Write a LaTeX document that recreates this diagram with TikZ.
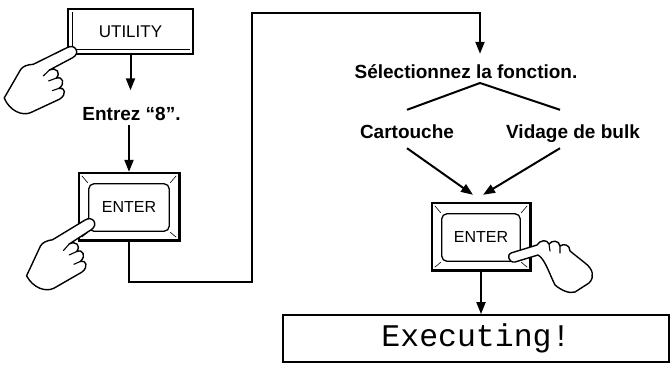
\documentclass[tikz,border=0pt]{standalone}
\usepackage{fontspec}
\setmainfont{Liberation Sans}
\newfontfamily\monofont{Liberation Mono}
\usetikzlibrary{arrows.meta,calc}

% outline of a keycap: heavy frame, rounded face, bevel corners
\newcommand\drawkeycap[1]{%
  \draw[line width=2.2pt] (#1.south west) rectangle (#1.north east);
  \draw[line width=3.4pt,line cap=rect] ([yshift=-1pt]#1.north east) -- (#1.south east) -- ([xshift=1pt]#1.south west);
  \draw[line width=1.3pt,rounded corners=5pt]
    ([xshift=10pt,yshift=9pt]#1.south west) rectangle ([xshift=-10pt,yshift=-11pt]#1.north east);
  \draw[line width=0.6pt] ([xshift=3pt,yshift=-3pt]#1.north west) -- ([xshift=9pt,yshift=-10pt]#1.north west);
  \draw[line width=0.6pt] ([xshift=-3pt,yshift=-3pt]#1.north east) -- ([xshift=-9pt,yshift=-10pt]#1.north east);
  \draw[line width=0.6pt] ([xshift=3pt,yshift=3pt]#1.south west) -- ([xshift=9pt,yshift=8pt]#1.south west);
  \draw[line width=0.6pt] ([xshift=-3pt,yshift=3pt]#1.south east) -- ([xshift=-9pt,yshift=8pt]#1.south east);
}

\begin{document}
\begin{tikzpicture}[x=1pt,y=-1pt,
  conn/.style={line width=2pt},
  arr/.style={conn,-{Triangle[length=12pt,width=9pt]}},
  lbl/.style={font=\fontsize{19}{19}\selectfont\bfseries,inner sep=0pt,anchor=base},
  keycap/.style={inner sep=0pt,minimum width=100pt,minimum height=67pt,
    font=\fontsize{16}{16}\selectfont},
  handline/.style={line width=1.4pt,fill=white,line join=round},
  crease/.style={line width=1.1pt,line cap=round},
  % right hand, palm side, index finger along +x
  hand/.pic={
    \draw[handline]
      (-36,-6) -- (-3,-5)
      .. controls (1,-5) and (3,-2.5) .. (3,0)
      .. controls (3,2.5) and (1,5) .. (-3,5)
      -- (-26,5)
      .. controls (-19,5.5) and (-18,12) .. (-24,14)
      .. controls (-18,15) and (-19,22) .. (-26,23)
      .. controls (-21,24) and (-22,31) .. (-30,31.5)
      -- (-58,30)
      .. controls (-66,29) and (-73,20) .. (-72,8)
      -- (-48,-7)
      .. controls (-45,-9) and (-40,-8) .. cycle;
    \draw[crease]
      (-24,14) -- (-31,13)
      (-26,23) -- (-32,22)
      (-26,5) -- (-33,7);
  },
  % hand seen from the back, index finger pointing left
  handback/.pic={
    \draw[handline]
      (2,5) .. controls (-5,6) and (-6,-3) .. (-2,-4)
      -- (24,-12)
      .. controls (27,-17) and (34,-18) .. (36,-13)
      .. controls (39,-17) and (46,-17) .. (47,-11)
      .. controls (51,-14) and (57,-12) .. (57,-6)
      -- (72,6)
      .. controls (80,12) and (82,20) .. (76,26)
      -- (62,35)
      .. controls (56,37) and (48,33) .. (42,28)
      .. controls (36,16) and (32,2) .. (25,-2)
      -- cycle;
    \draw[crease]
      (36,-13) -- (37,-6)
      (47,-11) -- (47,-4);
  }
]
\useasboundingbox (0,0) rectangle (671,368);

% UTILITY key with its shadowed frame
\node[inner sep=0pt,minimum width=125pt,minimum height=45pt,
  font=\fontsize{17}{17}\selectfont] (util) at (130.5,31.5) {UTILITY};
\draw[line width=2.2pt] (util.south west) rectangle (util.north east);
\draw[line width=1pt] ([xshift=4.5pt,yshift=-3pt]util.north west) -- ([xshift=4.5pt,yshift=4.5pt]util.south west)
  -- ([xshift=-3pt,yshift=4.5pt]util.south east);

% left column
\node[lbl,text height=29.5pt,text depth=5pt] (entrez) at (131.5,120) {Entrez “8”.};
\node[keycap] (enter1) at (129,206.5) {ENTER};
\drawkeycap{enter1}

% right column
\node[lbl,text height=24pt,text depth=6pt] (sel) at (466,78) {Sélectionnez la fonction.};
\coordinate (fork) at (480,83);
\node[lbl,text height=28pt,text depth=10pt] (cart) at (407,138) {Cartouche};
\node[lbl,text height=28pt,text depth=10pt] (vid) at (573,138) {Vidage de bulk};
\node[keycap,minimum width=98pt] (enter2) at (481,236.5) {ENTER};
\drawkeycap{enter2}
\node[draw,line width=1.8pt,inner sep=0pt,minimum width=386pt,minimum height=47pt,
  font=\monofont\fontsize{31.5}{31.5}\selectfont] (exec) at (476,338.5) {Executing!};

% loop from the first ENTER over to the function choice
\coordinate (loopA) at (252,282);
\coordinate (loopB) at (252,13);

% connectors
\draw[arr] (util.south) -- (util.south |- entrez.north);
\draw[arr] (enter1.north |- entrez.south) -- ([yshift=1pt]enter1.north);
\draw[arr] (enter1.south) |- (loopA) -- (loopB) -| (fork |- sel.north);
\draw[conn] (cart.north) -- (fork) -- ($(vid.north)+(-13,0)$);
\draw[arr] (cart.south) -- ($(enter2.north)+(-8,-8)$);
\draw[arr] ($(vid.south)+(-13,0)$) -- ($(enter2.north)+(2,-8)$);
\draw[arr] (enter2.south) -- (enter2.south |- exec.north);

% pointing hands
\pic[rotate=28,scale=1.15] at (73,51) {hand};
\pic[rotate=33,scale=1.15] at (91,223) {hand};
\pic at (513,257) {handback};
\end{tikzpicture}
\end{document}
